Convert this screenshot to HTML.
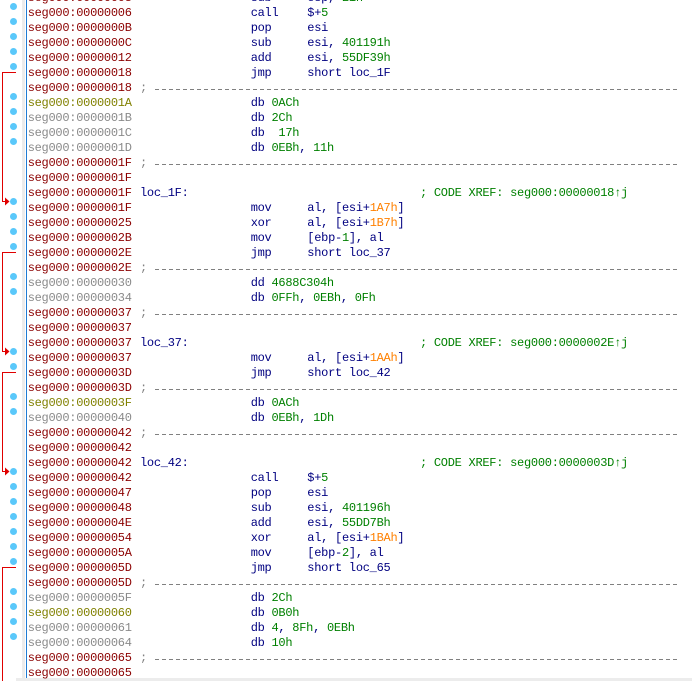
<!DOCTYPE html>
<html><head><meta charset="utf-8"><style>
html,body{margin:0;padding:0;background:#fff;width:692px;height:681px;overflow:hidden;position:relative}
.r{position:absolute;left:0;height:15px;line-height:15px;font-family:"Liberation Mono",monospace;font-size:12px;letter-spacing:-0.27px;white-space:pre;width:692px;margin-top:1px}
.r span{position:absolute;top:0}
.a{left:27.7px;color:#8b0000}.ao{left:27.7px;color:#808000}.ag{left:27.7px;color:#8a8a8a}
.l{left:140px;color:#000080}
.m{left:250.7px;color:#000080}
.o{left:307.3px;color:#000080}
.c{left:420px;color:#008000}
.s{left:140px;color:#808080}
.g{color:#008000;position:static!important}.or{color:#ff8000;position:static!important}.n{color:#000080;position:static!important}
.d{position:absolute;left:155px;width:523px;height:1px;background:repeating-linear-gradient(90deg,#808080 0 4px,transparent 4px 7px)}
</style></head><body>
<div style="position:absolute;left:22px;top:0;width:3px;height:681px;background:#ececec"></div>
<div style="position:absolute;left:25.5px;top:0;width:1.2px;height:681px;background:#1e7bd4"></div>
<div style="position:absolute;left:16px;top:678px;width:676px;height:3px;background:#ececec"></div>
<svg width="692" height="681" style="position:absolute;left:0;top:0">
<g fill="#5ac8fa">
<circle cx="13.5" cy="6.5" r="3.5"/><circle cx="13.5" cy="21.5" r="3.5"/><circle cx="13.5" cy="36.5" r="3.5"/><circle cx="13.5" cy="51.5" r="3.5"/><circle cx="13.5" cy="66.5" r="3.5"/>
<circle cx="13.5" cy="96.5" r="3.5"/><circle cx="13.5" cy="111.5" r="3.5"/><circle cx="13.5" cy="126.5" r="3.5"/><circle cx="13.5" cy="141.5" r="3.5"/>
<circle cx="13.5" cy="201.5" r="3.5"/><circle cx="13.5" cy="216.5" r="3.5"/><circle cx="13.5" cy="231.5" r="3.5"/><circle cx="13.5" cy="246.5" r="3.5"/>
<circle cx="13.5" cy="276.5" r="3.5"/><circle cx="13.5" cy="291.5" r="3.5"/>
<circle cx="13.5" cy="351.5" r="3.5"/><circle cx="13.5" cy="366.5" r="3.5"/>
<circle cx="13.5" cy="396.5" r="3.5"/><circle cx="13.5" cy="411.5" r="3.5"/>
<circle cx="13.5" cy="471.5" r="3.5"/><circle cx="13.5" cy="486.5" r="3.5"/><circle cx="13.5" cy="501.5" r="3.5"/><circle cx="13.5" cy="516.5" r="3.5"/><circle cx="13.5" cy="531.5" r="3.5"/><circle cx="13.5" cy="546.5" r="3.5"/><circle cx="13.5" cy="561.5" r="3.5"/>
<circle cx="13.5" cy="591.5" r="3.5"/><circle cx="13.5" cy="606.5" r="3.5"/><circle cx="13.5" cy="621.5" r="3.5"/><circle cx="13.5" cy="636.5" r="3.5"/>
</g>
<g stroke="#e00000" stroke-width="1" fill="none">
<polyline points="16,72.5 2.5,72.5 2.5,201.5 6,201.5"/>
<polyline points="16,252.5 2.5,252.5 2.5,351.5 6,351.5"/>
<polyline points="16,372.5 2.5,372.5 2.5,471.5 6,471.5"/>
<polyline points="16,567.5 2.5,567.5 2.5,681"/>
</g>
<g fill="#e00000">
<polygon points="5,197.5 9.5,201.5 5,205.5"/>
<polygon points="5,347.5 9.5,351.5 5,355.5"/>
<polygon points="5,467.5 9.5,471.5 5,475.5"/>
</g>
</svg>

<div class="r" style="top:-10px"><span class="a">seg000:00000003</span><span class="m">sub</span><span class="o">esp, <span class="g">21h</span></span></div>
<div class="r" style="top:5px"><span class="a">seg000:00000006</span><span class="m">call</span><span class="o">$+<span class="g">5</span></span></div>
<div class="r" style="top:20px"><span class="a">seg000:0000000B</span><span class="m">pop</span><span class="o">esi</span></div>
<div class="r" style="top:35px"><span class="a">seg000:0000000C</span><span class="m">sub</span><span class="o">esi, <span class="g">401191h</span></span></div>
<div class="r" style="top:50px"><span class="a">seg000:00000012</span><span class="m">add</span><span class="o">esi, <span class="g">55DF39h</span></span></div>
<div class="r" style="top:65px"><span class="a">seg000:00000018</span><span class="m">jmp</span><span class="o">short loc_1F</span></div>
<div class="r" style="top:80px"><span class="a">seg000:00000018</span><span class="s">;</span><div class="d" style="top:8px"></div></div>
<div class="r" style="top:95px"><span class="ao">seg000:0000001A</span><span class="m">db <span class="g">0ACh</span></span></div>
<div class="r" style="top:110px"><span class="ag">seg000:0000001B</span><span class="m">db <span class="g">2Ch</span></span></div>
<div class="r" style="top:125px"><span class="ag">seg000:0000001C</span><span class="m">db  <span class="g">17h</span></span></div>
<div class="r" style="top:140px"><span class="ag">seg000:0000001D</span><span class="m">db <span class="g">0EBh</span>, <span class="g">11h</span></span></div>
<div class="r" style="top:155px"><span class="a">seg000:0000001F</span><span class="s">;</span><div class="d" style="top:8px"></div></div>
<div class="r" style="top:170px"><span class="a">seg000:0000001F</span></div>
<div class="r" style="top:185px"><span class="a">seg000:0000001F</span><span class="l">loc_1F:</span><span class="c">; CODE XREF: seg000:00000018↑j</span></div>
<div class="r" style="top:200px"><span class="a">seg000:0000001F</span><span class="m">mov</span><span class="o">al, [esi+<span class="or">1A7h</span>]</span></div>
<div class="r" style="top:215px"><span class="a">seg000:00000025</span><span class="m">xor</span><span class="o">al, [esi+<span class="or">1B7h</span>]</span></div>
<div class="r" style="top:230px"><span class="a">seg000:0000002B</span><span class="m">mov</span><span class="o">[ebp-<span class="g">1</span>], al</span></div>
<div class="r" style="top:245px"><span class="a">seg000:0000002E</span><span class="m">jmp</span><span class="o">short loc_37</span></div>
<div class="r" style="top:260px"><span class="a">seg000:0000002E</span><span class="s">;</span><div class="d" style="top:8px"></div></div>
<div class="r" style="top:275px"><span class="ag">seg000:00000030</span><span class="m">dd <span class="g">4688C304h</span></span></div>
<div class="r" style="top:290px"><span class="ag">seg000:00000034</span><span class="m">db <span class="g">0FFh</span>, <span class="g">0EBh</span>, <span class="g">0Fh</span></span></div>
<div class="r" style="top:305px"><span class="a">seg000:00000037</span><span class="s">;</span><div class="d" style="top:8px"></div></div>
<div class="r" style="top:320px"><span class="a">seg000:00000037</span></div>
<div class="r" style="top:335px"><span class="a">seg000:00000037</span><span class="l">loc_37:</span><span class="c">; CODE XREF: seg000:0000002E↑j</span></div>
<div class="r" style="top:350px"><span class="a">seg000:00000037</span><span class="m">mov</span><span class="o">al, [esi+<span class="or">1AAh</span>]</span></div>
<div class="r" style="top:365px"><span class="a">seg000:0000003D</span><span class="m">jmp</span><span class="o">short loc_42</span></div>
<div class="r" style="top:380px"><span class="a">seg000:0000003D</span><span class="s">;</span><div class="d" style="top:8px"></div></div>
<div class="r" style="top:395px"><span class="ao">seg000:0000003F</span><span class="m">db <span class="g">0ACh</span></span></div>
<div class="r" style="top:410px"><span class="ag">seg000:00000040</span><span class="m">db <span class="g">0EBh</span>, <span class="g">1Dh</span></span></div>
<div class="r" style="top:425px"><span class="a">seg000:00000042</span><span class="s">;</span><div class="d" style="top:8px"></div></div>
<div class="r" style="top:440px"><span class="a">seg000:00000042</span></div>
<div class="r" style="top:455px"><span class="a">seg000:00000042</span><span class="l">loc_42:</span><span class="c">; CODE XREF: seg000:0000003D↑j</span></div>
<div class="r" style="top:470px"><span class="a">seg000:00000042</span><span class="m">call</span><span class="o">$+<span class="g">5</span></span></div>
<div class="r" style="top:485px"><span class="a">seg000:00000047</span><span class="m">pop</span><span class="o">esi</span></div>
<div class="r" style="top:500px"><span class="a">seg000:00000048</span><span class="m">sub</span><span class="o">esi, <span class="g">401196h</span></span></div>
<div class="r" style="top:515px"><span class="a">seg000:0000004E</span><span class="m">add</span><span class="o">esi, <span class="g">55DD7Bh</span></span></div>
<div class="r" style="top:530px"><span class="a">seg000:00000054</span><span class="m">xor</span><span class="o">al, [esi+<span class="or">1BAh</span>]</span></div>
<div class="r" style="top:545px"><span class="a">seg000:0000005A</span><span class="m">mov</span><span class="o">[ebp-<span class="g">2</span>], al</span></div>
<div class="r" style="top:560px"><span class="a">seg000:0000005D</span><span class="m">jmp</span><span class="o">short loc_65</span></div>
<div class="r" style="top:575px"><span class="a">seg000:0000005D</span><span class="s">;</span><div class="d" style="top:8px"></div></div>
<div class="r" style="top:590px"><span class="ag">seg000:0000005F</span><span class="m">db <span class="g">2Ch</span></span></div>
<div class="r" style="top:605px"><span class="ao">seg000:00000060</span><span class="m">db <span class="g">0B0h</span></span></div>
<div class="r" style="top:620px"><span class="ag">seg000:00000061</span><span class="m">db <span class="g">4</span>, <span class="g">8Fh</span>, <span class="g">0EBh</span></span></div>
<div class="r" style="top:635px"><span class="ag">seg000:00000064</span><span class="m">db <span class="g">10h</span></span></div>
<div class="r" style="top:650px"><span class="a">seg000:00000065</span><span class="s">;</span><div class="d" style="top:8px"></div></div>
<div class="r" style="top:665px"><span class="a">seg000:00000065</span></div>
</body></html>
